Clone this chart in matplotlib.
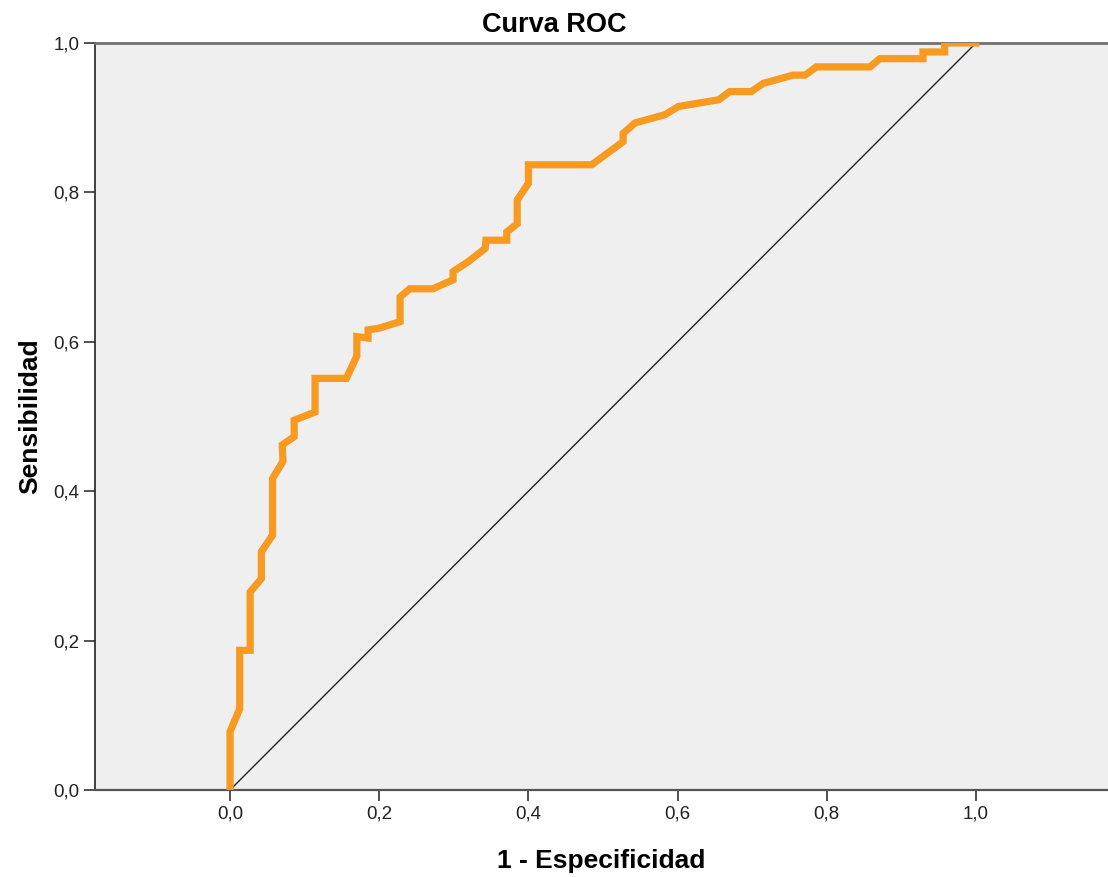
import matplotlib
matplotlib.use("Agg")
import matplotlib.pyplot as plt
from matplotlib.ticker import FuncFormatter

plt.rcParams['font.family'] = ['Liberation Sans', 'DejaVu Sans']

# ROC curve points (1 - especificidad, sensibilidad)
fpr = [0.0, 0.0, 0.013, 0.013, 0.027, 0.027, 0.042, 0.042, 0.057, 0.057,
       0.071, 0.07, 0.086, 0.086, 0.114, 0.114, 0.156, 0.17, 0.17, 0.185,
       0.185, 0.199, 0.228, 0.228, 0.241, 0.272, 0.299, 0.299, 0.319, 0.342,
       0.343, 0.371, 0.371, 0.385, 0.385, 0.40, 0.40, 0.485, 0.527, 0.527,
       0.543, 0.583, 0.601, 0.655, 0.670, 0.699, 0.715, 0.755, 0.771, 0.786,
       0.858, 0.871, 0.929, 0.929, 0.958, 0.958, 1.0]
tpr = [0.0, 0.078, 0.109, 0.187, 0.187, 0.265, 0.283, 0.319, 0.341, 0.417,
       0.44, 0.462, 0.473, 0.495, 0.506, 0.551, 0.551, 0.581, 0.607, 0.605,
       0.616, 0.618, 0.627, 0.66, 0.671, 0.671, 0.683, 0.694, 0.707, 0.725,
       0.736, 0.736, 0.747, 0.758, 0.79, 0.812, 0.837, 0.837, 0.868, 0.879,
       0.893, 0.904, 0.915, 0.924, 0.935, 0.935, 0.946, 0.957, 0.957, 0.968,
       0.968, 0.979, 0.979, 0.988, 0.988, 1.0, 1.0]
ref = [0.0, 1.0]
ticks = [0.0, 0.2, 0.4, 0.6, 0.8, 1.0]

fig = plt.figure(figsize=(11.08, 8.77), dpi=100)
ax = fig.add_axes([95 / 1108, 87 / 877, 1013 / 1108, 747 / 877])
ax.set_facecolor('#efefef')

ax.plot(ref, ref, color='#222222', lw=1.0, zorder=2)
ax.plot(fpr, tpr, color='#f89a1f', lw=5.2, solid_joinstyle='miter', zorder=3)

ax.set_xlim(-0.181, 1.177)
ax.set_ylim(0, 1.0)
ax.set_xticks(ticks)
ax.set_yticks(ticks)
fmt = FuncFormatter(lambda v, p: f"{v:.1f}".replace('.', ','))
ax.xaxis.set_major_formatter(fmt)
ax.yaxis.set_major_formatter(fmt)
ax.tick_params(direction='out', length=8, width=1.2, color='#333333',
               labelsize=13.5, labelcolor='#222222', pad=3)

ax.spines['right'].set_visible(False)
ax.spines['top'].set_color('#707070')
ax.spines['top'].set_linewidth(2)
ax.spines['left'].set_color('#222222')
ax.spines['left'].set_linewidth(1.2)
ax.spines['bottom'].set_color('#555555')
ax.spines['bottom'].set_linewidth(1.6)

ax.set_xlabel('1 - Especificidad', fontsize=19, fontweight='bold', labelpad=19)
ax.set_ylabel('Sensibilidad', fontsize=19, fontweight='bold', labelpad=8)
fig.text(0.5, 1 - 25 / 877, 'Curva ROC', ha='center', va='center',
         fontsize=19.5, fontweight='bold')

fig.savefig('out.png', dpi=100)
